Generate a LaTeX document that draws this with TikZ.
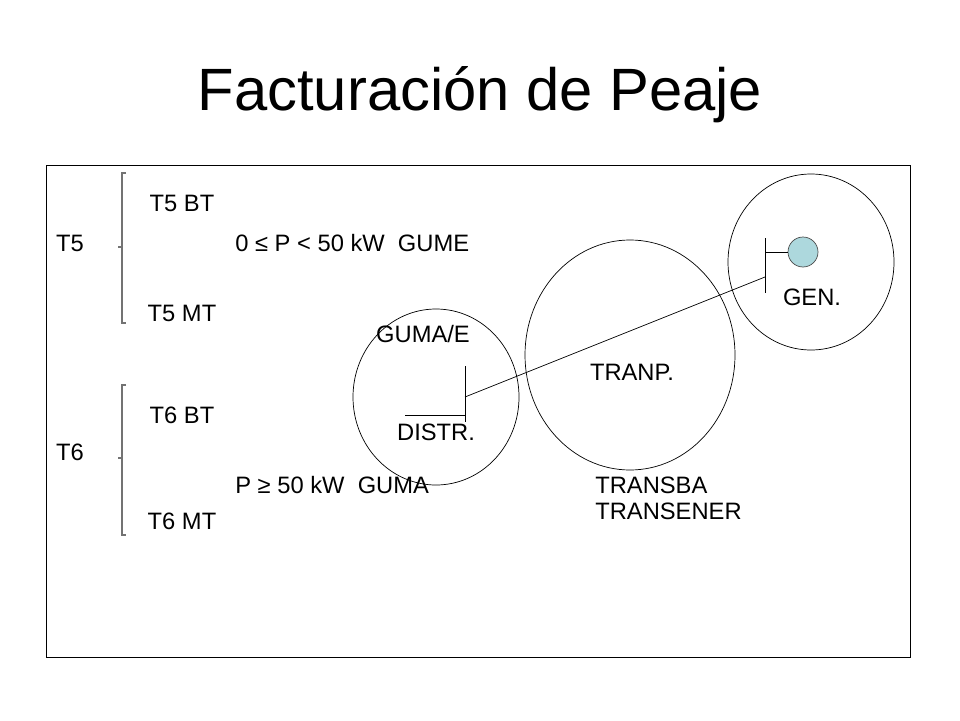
\documentclass[tikz,border=0pt]{standalone}
\usepackage{fontspec}
\setmainfont{Liberation Sans}
\usetikzlibrary{positioning}
\definecolor{genfill}{RGB}{173,216,221}

\begin{document}
\begin{tikzpicture}[
    x=0.02cm, y=-0.02cm,
    label/.style={inner sep=0pt, font=\fontsize{13.5}{16}\selectfont},
    ring/.style={draw=black, thin},
    bracket/.style={draw=black!55, semithick}
]
    \useasboundingbox (0,0) rectangle (960,720);
    \node[font=\fontsize{34}{40}\selectfont] (title) at (480,95) {Facturación de Peaje};
    \draw[thin] (46,165) rectangle (910,657);

    % tariff groups
    \node[label] (t5) at (70,243) {T5};
    \node[label] (t6) at (70,452) {T6};
    \draw[bracket] (126,173) -- (122,173) -- (122,323) -- (126,323);
    \draw[bracket] (122,247) -- (118,247);
    \draw[bracket] (126,385) -- (122,385) -- (122,535) -- (126,535);
    \draw[bracket] (122,458) -- (118,458);
    \node[label] (t5bt) at (182,203) {T5 BT};
    \node[label] (t5mt) at (182,313) {T5 MT};
    \node[label] (t6bt) at (182,415) {T6 BT};
    \node[label] (t6mt) at (182,521) {T6 MT};
    \node[label, anchor=west] (gume) at (235,243) {0 ≤ P < 50 kW\ \ GUME};
    \node[label, anchor=west] (guma) at (235,485) {P ≥ 50 kW\ \ GUMA};

    % network circles
    \draw[ring] (436,397) ellipse (83 and 88);
    \draw[ring] (630,355) ellipse (105 and 115);
    \draw[ring] (811,262) ellipse (83 and 88);
    \node[label] (gumae) at (423,334) {GUMA/E};
    \node[label] (distr) at (436,432) {DISTR.};
    \node[label] (tranp) at (632,372) {TRANP.};
    \node[label] (gen) at (812,297) {GEN.};
    \node[label, anchor=west] (transba) at (595,485) {TRANSBA};
    \node[label, anchor=west] (transener) at (595,511) {TRANSENER};

    % buses and line
    \coordinate (dtop) at (465,366);
    \coordinate (dbot) at (465,422);
    \coordinate (dtap) at (465,397);
    \coordinate (dload) at (405,415);
    \coordinate (dbus) at (465,415);
    \coordinate (gtop) at (765,238);
    \coordinate (gbot) at (765,293);
    \coordinate (gtap) at (765,277);
    \coordinate (gout) at (765,252);
    \node[circle, draw=black!70, fill=genfill, minimum size=0.6cm, inner sep=0pt] (machine) at (803,252) {};
    \draw (dtop) -- (dbot);
    \draw (dload) -- (dbus);
    \draw (gtop) -- (gbot);
    \draw (gout) -- (machine);
    \draw (dtap) -- (gtap);
\end{tikzpicture}
\end{document}
